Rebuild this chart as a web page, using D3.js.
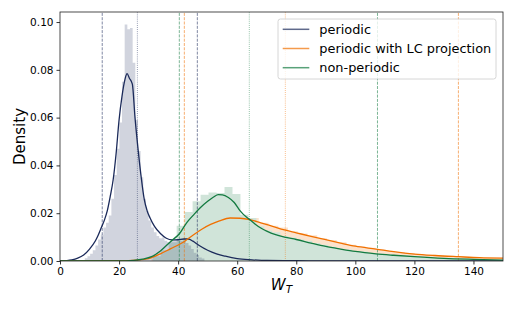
<!DOCTYPE html>
<html>
<head>
<meta charset="utf-8">
<script src="https://cdn.jsdelivr.net/npm/d3@7"></script>
<style>
  body { margin: 0; background: #fff; }
  svg { font-family: "DejaVu Sans", sans-serif; }
</style>
</head>
<body>
<div id="chart"></div>
<script>
// KDE curves
const periodicX = [0, 4, 6, 8, 10, 12, 13, 14, 15, 16, 17, 18, 19, 20, 21, 22, 22.7, 23.5, 24.5, 25.4, 26.5, 27.5, 28.5, 29.5, 30.5, 32, 34, 36, 38, 40, 42, 43.5, 45, 47, 50, 53, 56, 60, 65, 70, 80, 90, 150];
const periodicY = [0, 0.0005, 0.0012, 0.0025, 0.005, 0.0085, 0.011, 0.014, 0.017, 0.021, 0.027, 0.034, 0.045, 0.059, 0.069, 0.076, 0.0784, 0.0765, 0.074, 0.060, 0.046, 0.035, 0.026, 0.021, 0.018, 0.0145, 0.0115, 0.0095, 0.0088, 0.0089, 0.0092, 0.0092, 0.0083, 0.0066, 0.0045, 0.003, 0.002, 0.001, 0.0005, 0.0002, 0.0001, 0, 0];

const lcX = [0, 20, 26, 30, 34, 37.5, 40.5, 42.5, 45, 48, 51, 54, 57.6, 61, 64.3, 68, 72, 76, 80, 85, 90, 95, 100, 107, 113, 120, 127, 135, 142, 150];
const lcY = [0, 0.0001, 0.0004, 0.001, 0.003, 0.0052, 0.007, 0.0085, 0.0108, 0.0133, 0.0153, 0.0168, 0.018, 0.0179, 0.0173, 0.016, 0.0145, 0.013, 0.0118, 0.0103, 0.0089, 0.0075, 0.0062, 0.005, 0.0039, 0.0029, 0.0023, 0.0018, 0.0014, 0.0012];

const nonpX = [0, 20, 25, 28, 31, 34, 37.5, 40.5, 43, 45, 47.4, 50, 52, 53.6, 55, 57, 59, 61, 63, 64.3, 66, 68, 70, 73, 76, 80, 85, 90, 95, 100, 107, 113, 120, 130, 140, 150];
const nonpY = [0, 0, 0.0003, 0.0008, 0.0018, 0.0042, 0.0082, 0.0115, 0.0162, 0.019, 0.0222, 0.025, 0.0268, 0.0278, 0.0277, 0.0266, 0.0245, 0.021, 0.0185, 0.0173, 0.0155, 0.0138, 0.0125, 0.011, 0.010, 0.009, 0.0075, 0.0061, 0.005, 0.004, 0.003, 0.0024, 0.0018, 0.0011, 0.0007, 0.0004];

// histograms: first bin edge, bin width, bar heights
const periodicBinStart = 8.4, periodicBinWidth = 0.9;
const periodicHist = [0.0012, 0.002, 0.003, 0.0045, 0.0065, 0.009, 0.011, 0.014, 0.016, 0.019, 0.026, 0.036, 0.047, 0.058, 0.075, 0.099, 0.097, 0.0975, 0.083, 0.059, 0.046, 0.035, 0.026, 0.021, 0.017, 0.014, 0.012, 0.0105, 0.0095, 0.0098, 0.0085, 0.008, 0.0085, 0.0088, 0.009, 0.0092, 0.0085, 0.0088, 0.0075, 0.0065, 0.005, 0.0035, 0.0025, 0.0015, 0.001];

const lcBinStart = 31, lcBinWidth = 3.3;
const lcHist = [0.001, 0.003, 0.005, 0.008, 0.010, 0.013, 0.015, 0.017, 0.018, 0.0182, 0.018, 0.016, 0.0148, 0.014, 0.0125, 0.0115, 0.0108, 0.0095, 0.0088, 0.0078, 0.0068, 0.006, 0.0055, 0.0048, 0.0042, 0.0037, 0.0033, 0.0029, 0.0026, 0.0023, 0.002, 0.0018, 0.0016, 0.0014, 0.0013, 0.0012];

const nonpBinStart = 31.4, nonpBinWidth = 2.7;
const nonpHist = [0.002, 0.0045, 0.0078, 0.0148, 0.0205, 0.025, 0.0277, 0.0287, 0.0285, 0.031, 0.028, 0.0194, 0.018, 0.0145, 0.0128, 0.012, 0.0105, 0.0098, 0.009, 0.0085, 0.0075, 0.0068, 0.006, 0.0052, 0.0048, 0.0042, 0.004, 0.0034, 0.003, 0.0028, 0.0025, 0.0022, 0.002, 0.0017, 0.0015, 0.0013, 0.0011, 0.001, 0.0008, 0.0007, 0.0006, 0.0005, 0.0004, 0.0004];

// vertical reference lines (low / middle / high)
const periodicLines = [14.3, 26.2, 46.5];
const lcLines = [42.1, 76.3, 134.9];
const nonpLines = [40.4, 64.1, 107.5];

const xTicks = [0, 20, 40, 60, 80, 100, 120, 140];
const yTicks = [0, 0.02, 0.04, 0.06, 0.08, 0.10];
const legendLabels = ["periodic", "periodic with LC projection", "non-periodic"];

const colors = ["#1b2a5a", "#f07000", "#137a40"];

const width = 515, height = 309;
const margin = {left: 60, right: 12, top: 12, bottom: 48};

const svg = d3.select("#chart").append("svg")
    .attr("width", width)
    .attr("height", height);

const x = d3.scaleLinear().domain([0, 150]).range([margin.left, width - margin.right]);
const y = d3.scaleLinear().domain([0, 0.1042]).range([height - margin.bottom, margin.top]);

svg.append("clipPath").attr("id", "plot")
  .append("rect")
    .attr("x", x(0)).attr("y", y(0.1042))
    .attr("width", x(150) - x(0)).attr("height", y(0) - y(0.1042));

const plot = svg.append("g").attr("clip-path", "url(#plot)");

// histogram as one step outline, so neighbouring bars do not overlap
function histPath(start, w, heights) {
    const pts = [[x(start), y(0)]];
    heights.forEach((h, i) => {
        pts.push([x(start + i * w), y(h)]);
        pts.push([x(start + (i + 1) * w), y(h)]);
    });
    pts.push([x(start + heights.length * w), y(0)]);
    return d3.line()(pts) + "Z";
}
function drawHist(start, w, heights, color, opacity) {
    plot.append("path")
        .attr("d", histPath(start, w, heights))
        .attr("fill", color)
        .attr("fill-opacity", opacity);
}
drawHist(lcBinStart, lcBinWidth, lcHist, colors[1], 0.2);
drawHist(nonpBinStart, nonpBinWidth, nonpHist, "#fff", 1);
drawHist(nonpBinStart, nonpBinWidth, nonpHist, colors[2], 0.2);
drawHist(periodicBinStart, periodicBinWidth, periodicHist, colors[0], 0.2);

// vertical lines
function drawLines(vals, color) {
    plot.append("g").selectAll("line")
        .data(vals)
        .enter().append("line")
        .attr("x1", d => x(d)).attr("x2", d => x(d))
        .attr("y1", y(0)).attr("y2", y(0.1042))
        .attr("stroke", color)
        .attr("stroke-opacity", 0.7)
        .attr("stroke-width", 0.8)
        .attr("stroke-dasharray", (d, i) => i === 1 ? "0.8,1.3" : "3,1.3");
}
drawLines(periodicLines, colors[0]);
drawLines(lcLines, colors[1]);
drawLines(nonpLines, colors[2]);

// KDE lines
const line = d3.line().curve(d3.curveMonotoneX);
function drawKde(xs, ys, color) {
    plot.append("path")
        .attr("d", line(xs.map((v, i) => [x(v), y(ys[i])])))
        .attr("fill", "none")
        .attr("stroke", color)
        .attr("stroke-width", 1.3);
}
drawKde(periodicX, periodicY, colors[0]);
drawKde(lcX, lcY, colors[1]);
drawKde(nonpX, nonpY, colors[2]);

// axes
const xAxis = svg.append("g")
    .attr("transform", `translate(0,${y(0)})`)
    .call(d3.axisBottom(x).tickValues(xTicks).tickSize(3.5).tickPadding(3).tickFormat(d3.format("d")));
const yAxis = svg.append("g")
    .attr("transform", `translate(${x(0)},0)`)
    .call(d3.axisLeft(y).tickValues(yTicks).tickSize(3.5).tickPadding(3).tickFormat(d3.format(".2f")));
[xAxis, yAxis].forEach(a => {
    a.select(".domain").remove();
    a.selectAll("text").attr("font-size", 10.5).attr("fill", "#000")
        .attr("font-family", "DejaVu Sans");
    a.selectAll("line").attr("stroke", "#000").attr("stroke-width", 0.8);
});

// frame
svg.append("rect")
    .attr("x", x(0)).attr("y", y(0.1042))
    .attr("width", x(150) - x(0)).attr("height", y(0) - y(0.1042))
    .attr("fill", "none")
    .attr("stroke", "#222")
    .attr("stroke-width", 0.8);

// labels
svg.append("text")
    .attr("transform", `translate(25,${(y(0) + y(0.1042)) / 2}) rotate(-90)`)
    .attr("text-anchor", "middle")
    .attr("font-size", 15)
    .text("Density");

const xl = svg.append("text")
    .attr("x", (x(0) + x(150)) / 2)
    .attr("y", 290)
    .attr("text-anchor", "middle")
    .attr("font-size", 15)
    .attr("font-style", "italic");
xl.append("tspan").text("W");
xl.append("tspan").attr("font-size", 10.5).attr("dy", 3).text("T");

// legend
const lg = svg.append("g").attr("transform", "translate(278,19)");
lg.append("rect")
    .attr("width", 218).attr("height", 60)
    .attr("rx", 2.5)
    .attr("fill", "#fff").attr("fill-opacity", 0.8)
    .attr("stroke", "#ccc").attr("stroke-width", 0.8);
legendLabels.forEach((t, i) => {
    const yy = 10.3 + i * 19.2;
    lg.append("line")
        .attr("x1", 4.7).attr("x2", 31.3)
        .attr("y1", yy).attr("y2", yy)
        .attr("stroke", colors[i]).attr("stroke-opacity", 0.7)
        .attr("stroke-width", 1.5);
    lg.append("text")
        .attr("x", 41.3).attr("y", yy)
        .attr("dy", "0.35em")
        .attr("font-size", 12.9)
        .text(t);
});
</script>
</body>
</html>
